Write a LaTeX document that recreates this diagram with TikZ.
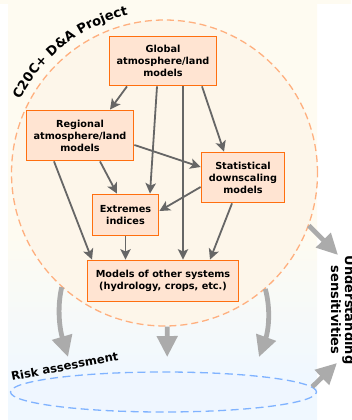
\documentclass[tikz,border=0pt]{standalone}
\usepackage{fontspec}
\setmainfont{DejaVu Sans}
\usetikzlibrary{arrows.meta,shapes.geometric,decorations.text}
\definecolor{bgcream}{HTML}{FEFBF1}
\definecolor{bgblue}{HTML}{F0F8FF}
\definecolor{circfill}{HTML}{FDF6EA}
\definecolor{circline}{HTML}{FFB07F}
\definecolor{boxfill}{HTML}{FFE4D2}
\definecolor{boxline}{HTML}{FF6F0F}
\definecolor{ellfill}{HTML}{EFF6FF}
\definecolor{ellline}{HTML}{80B3FF}
\definecolor{arr}{HTML}{666666}
\definecolor{bigarr}{HTML}{ABABAB}
\pgfdeclareverticalshading{bgshade}{100bp}{color(0bp)=(bgblue); color(30bp)=(bgblue); color(47bp)=(bgcream); color(100bp)=(bgcream)}
\newcommand\hdfont{\fontsize{13}{14}\selectfont\bfseries}
\newcommand\riskfont{\fontsize{11.6}{13}\selectfont\bfseries}
\begin{document}
\begin{tikzpicture}[x=1pt,y=-1pt,
 modelbox/.style={draw=boxline, fill=boxfill, line width=1.8pt, align=center,
   font=\fontsize{9.7}{12}\selectfont\bfseries, inner sep=0pt},
 link/.style={draw=arr, line width=1.8pt, -{Stealth[length=10.5pt,width=10.5pt,inset=2.5pt]}},
 bigarrow/.style={draw=bigarr, line width=4.8pt, -{Triangle[length=21pt,width=20pt]}},
 heading/.style={font=\hdfont}]
\useasboundingbox (0,0) rectangle (351,420);
\shade[shading=bgshade] (8,0) rectangle (317,420);
\fill[bgcream] (0,0) rectangle (351,4);

\node[circle, draw=circline, fill=circfill, line width=1.3pt, dash pattern=on 7pt off 4pt,
  minimum size=306pt, inner sep=0pt] (circ) at (164.5,173) {};
\node[ellipse, draw=ellline, fill=ellfill, line width=1.3pt, dash pattern=on 8pt off 4.5pt,
  minimum width=306pt, minimum height=40pt, inner sep=0pt] (ell) at (163.5,392) {};

\node[modelbox, minimum width=107pt, minimum height=49pt] (glob) at (163,61) {Global\\atmosphere/land\\models};
\node[modelbox, minimum width=107pt, minimum height=50pt] (reg) at (80,135.5) {Regional\\atmosphere/land\\models};
\node[modelbox, minimum width=83pt, minimum height=50pt] (stat) at (243,177.5) {Statistical\\downscaling\\models};
\node[modelbox, minimum width=66pt, minimum height=41pt] (ext) at (125.5,215) {Extremes\\indices};
\node[modelbox, minimum width=151pt, minimum height=41pt] (oth) at (163,281) {Models of other systems\\(hydrology, crops, etc.)};

\draw[link] ([xshift=-36pt]glob.south) -- ([xshift=30pt]reg.north);
\draw[link] ([xshift=-6pt]glob.south) -- ([xshift=24.5pt]ext.north);
\draw[link] ([xshift=20pt]glob.south) -- ([xshift=20pt]oth.north);
\draw[link] ([xshift=39pt]glob.south) -- ([xshift=-19pt]stat.north);
\draw[link] ([yshift=-9.5pt]reg.east) -- ([yshift=10.5pt]stat.west);
\draw[link] ([xshift=20pt]reg.south) -- ([xshift=-8.5pt]ext.north);
\draw[link] ([xshift=-26pt]reg.south) -- ([xshift=-71pt]oth.north);
\draw[link] ([yshift=-9.5pt]stat.west) -- ([yshift=4pt]ext.east);
\draw[link] ([xshift=-11pt]stat.south) -- ([xshift=47pt]oth.north);
\draw[link] (ext.south) -- (oth.north -| ext.south);

\coordinate (t1) at (68,357);
\coordinate (t2) at (167.2,357);
\coordinate (t3) at (259,357);
\coordinate (t4) at (338,255);
\coordinate (t5) at (337,363);
\draw[bigarrow] (circ.-132) .. controls +(-5,22) and +(-8,-27) .. (t1);
\draw[bigarrow] (circ.-89) -- (t2);
\draw[bigarrow] (circ.-49) .. controls +(6,22) and +(9,-25) .. (t3);
\draw[bigarrow] (circ.-20.6) -- (t4);
\draw[bigarrow] (ell.2.5) -- (t5);

\path[decorate, decoration={text along path, text={|\hdfont|C20C+ D{\&}A Project}, text align=center}]
  (circ.center) ++(182:162) arc[start angle=182, end angle=282, radius=162];

\node[font=\riskfont, rotate=11, anchor=base west, inner sep=0pt] (risk) at (12,381) {Risk assessment};

\node[heading, rotate=-90, align=center, inner sep=0pt] (us) at (343,310) {Understanding\\sensitivities};
\end{tikzpicture}
\end{document}
